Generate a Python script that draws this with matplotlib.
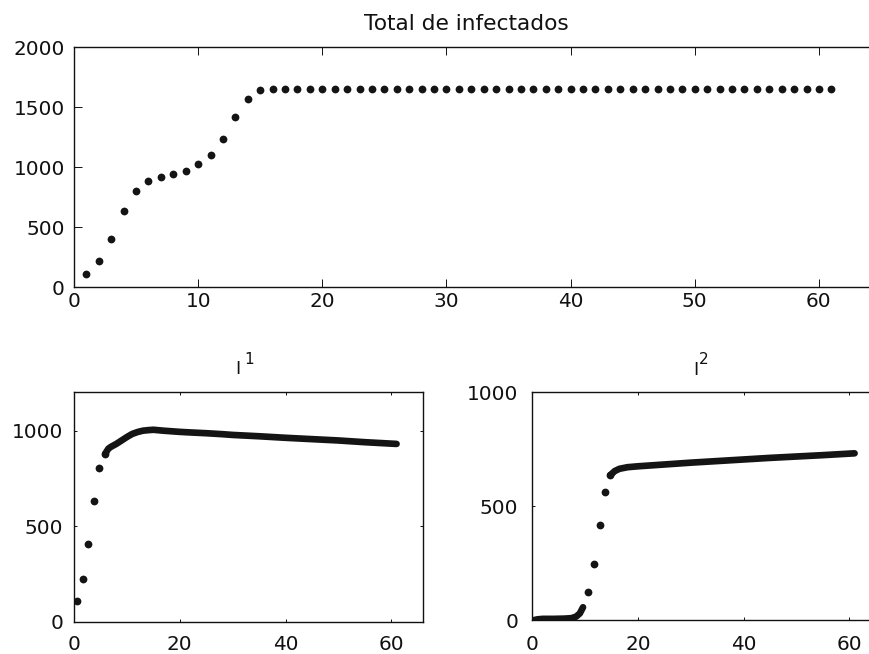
import matplotlib
matplotlib.use("Agg")
import matplotlib.pyplot as plt

# Total infected, one point per day
days = list(range(1, 62))
total = [111, 219, 400, 637, 806, 889, 919, 947, 972, 1028,
         1100, 1239, 1419, 1572, 1642, 1655, 1655, 1655, 1655, 1655,
         1655, 1655, 1655, 1655, 1655, 1655, 1655, 1655, 1655, 1655,
         1655, 1655, 1655, 1655, 1655, 1655, 1655, 1655, 1655, 1655,
         1655, 1655, 1655, 1655, 1655, 1655, 1655, 1655, 1655, 1655,
         1655, 1655, 1655, 1655, 1655, 1655, 1655, 1655, 1655, 1655,
         1655]

# I1: sparse early solver steps, then dense steps
i1_t_sparse = [0.6, 1.7, 2.7, 3.8, 4.8, 5.9]
i1_sparse = [108, 221, 406, 634, 806, 879]
i1_t_dense = [5.9, 6.5, 7, 8, 9, 10, 11, 12, 13, 14, 15, 17, 20, 22, 25,
              28, 30, 35, 40, 45, 50, 55, 61]
i1_dense = [879, 905, 915, 930, 948, 966, 982, 992, 999, 1002, 1004, 999,
            993, 990, 986, 981, 977, 970, 962, 955, 948, 939, 930]

# I2
i2_t_sparse = [10.5, 11.7, 12.75, 13.8, 14.8]
i2_sparse = [122, 247, 416, 563, 637]
i2_t_early = [0.4, 1, 2, 4, 6, 7.4, 8.3, 9.0, 9.6]
i2_early = [0, 3, 5, 5, 6, 8, 15, 29, 56]
i2_t_dense = [14.8, 15.6, 16.5, 18, 20, 25, 30, 35, 40, 45, 50, 55, 61]
i2_dense = [637, 654, 664, 671, 675, 683, 691, 698, 705, 712, 718, 724, 732]

W, H = 870, 654
DOT = "#141414"
INK = "#111111"
plt.rcParams["font.family"] = ["DejaVu Sans"]

fig = plt.figure(figsize=(W / 100, H / 100), dpi=100)
fig.patch.set_facecolor("white")


def px_axes(left, right, top, bottom):
    return fig.add_axes([left / W, 1 - bottom / H, (right - left) / W, (bottom - top) / H])


def px_text(x, y, s, **kw):
    return fig.text(x / W, 1 - y / H, s, va="baseline", color=INK, **kw)


def style(ax, ticklen, xpad, ypad):
    for sp in ax.spines.values():
        sp.set_linewidth(1.0)
        sp.set_color(INK)
    ax.tick_params(direction="in", top=True, right=True, length=ticklen,
                   width=0.7, labelsize=14.4, colors=INK)
    ax.tick_params(axis="x", pad=xpad)
    ax.tick_params(axis="y", pad=ypad)


ax = px_axes(74, 881, 47.3, 287.3)
ax.plot(days, total, "o", color=DOT, markersize=5.6, markeredgewidth=0)
ax.set_xlim(0, 65)
ax.set_ylim(0, 2000)
ax.set_xticks([0, 10, 20, 30, 40, 50, 60])
ax.set_yticks([0, 500, 1000, 1500, 2000])
style(ax, 5.8, 3.2, 6.5)
px_text(466, 29.5, "Total de infectados", ha="center", fontsize=15.6)

ax1 = px_axes(74, 423, 392.3, 621.7)
ax1.plot(i1_t_dense, i1_dense, "-", color=DOT, linewidth=4.8,
         solid_capstyle="round", solid_joinstyle="round")
ax1.plot(i1_t_sparse, i1_sparse, "o", color=DOT, markersize=5.6, markeredgewidth=0)
ax1.set_xlim(0, 66)
ax1.set_ylim(0, 1200)
ax1.set_xticks([0, 20, 40, 60])
ax1.set_yticks([0, 500, 1000])
style(ax1, 2.3, 9.6, 7.7)
# title I^1, drawn as two pieces so the superscript keeps its size
px_text(235, 374.3, "I", ha="left", fontsize=12.8)
px_text(244.5, 364, "1", ha="left", fontsize=11)

ax2 = px_axes(532.3, 881, 392.3, 620)
ax2.plot(i2_t_early, i2_early, "-", color=DOT, linewidth=4.8,
         solid_capstyle="round", solid_joinstyle="round")
ax2.plot(i2_t_dense, i2_dense, "-", color=DOT, linewidth=4.8,
         solid_capstyle="round", solid_joinstyle="round")
ax2.plot(i2_t_sparse, i2_sparse, "o", color=DOT, markersize=5.6, markeredgewidth=0)
ax2.set_xlim(0, 66)
ax2.set_ylim(0, 1000)
ax2.set_xticks([0, 20, 40, 60])
ax2.set_yticks([0, 500, 1000])
style(ax2, 2.3, 10.8, 10)
px_text(693, 375, "I", ha="left", fontsize=12.8)
px_text(699, 364, "2", ha="left", fontsize=11)

fig.savefig("out.png", dpi=100, facecolor="white")
